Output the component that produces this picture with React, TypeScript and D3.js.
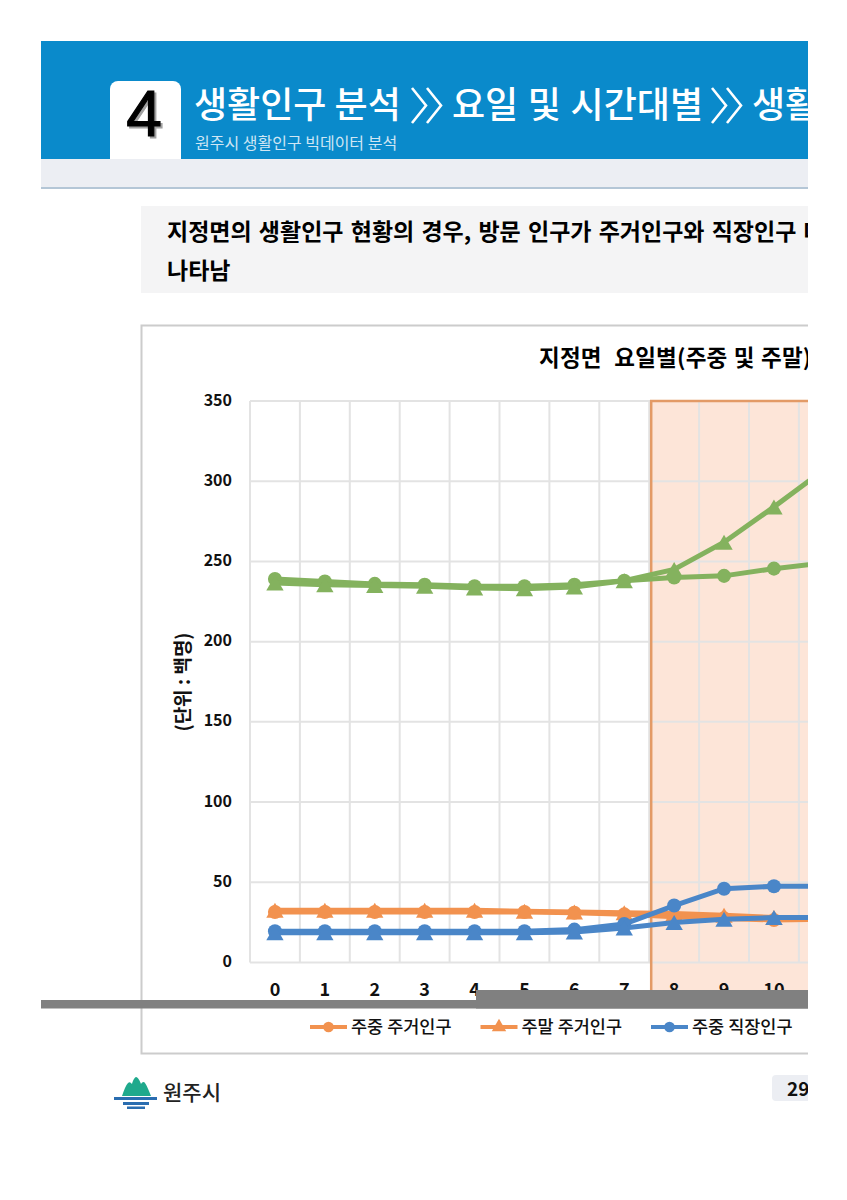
import { useEffect, useRef } from "react";
import * as d3 from "d3";

const hours = d3.range(0, 24).map(String);
const visibleHours = d3.range(0, 11).map(String);
const yTicks = [0, 50, 100, 150, 200, 250, 300, 350];

// only hours 0-11 are readable, the rest of the page is cut off
const weekdayResident = [31.5, 31.5, 31.5, 31.5, 31.5, 31.5, 31, 30, 28.5, 27.5, 26.5, 27];
const weekendResident = [32.5, 32.5, 32.5, 32.5, 32.5, 32, 31.5, 31, 30.5, 29.5, 28, 27];
const weekdayWorker = [19.5, 19.5, 19.5, 19.5, 19.5, 19.5, 20.5, 24, 35.5, 46, 47.5, 47.5];
const weekendWorker = [18.5, 18.5, 18.5, 18.5, 18.5, 18.5, 19, 21.5, 25, 27, 28, 28];
const weekdayVisitor = [239, 237.5, 236, 235.5, 234.5, 234.5, 235.5, 238, 240, 241, 245.5, 249];
const weekendVisitor = [236.5, 235.5, 235, 234.5, 233.5, 233, 234, 238, 245, 262, 284, 307];

const orange = "#f2924f";
const blue = "#4a86c8";
const green = "#84b25e";
const font = "'Noto Sans CJK KR', sans-serif";

const series = [
  { name: "주중 주거인구", values: weekdayResident, color: orange, marker: "circle" },
  { name: "주말 주거인구", values: weekendResident, color: orange, marker: "triangle" },
  { name: "주중 직장인구", values: weekdayWorker, color: blue, marker: "circle" },
  { name: "주말 직장인구", values: weekendWorker, color: blue, marker: "triangle" },
  { name: "주중 방문인구", values: weekdayVisitor, color: green, marker: "circle" },
  { name: "주말 방문인구", values: weekendVisitor, color: green, marker: "triangle" },
];

export default function App() {
  const svgRef = useRef<SVGSVGElement>(null);

  useEffect(() => {
    if (!svgRef.current) return;
    const svg = d3.select(svgRef.current);
    svg.selectAll("*").remove();

    const text = (
      x: number,
      y: number,
      s: string,
      size: number,
      weight: number,
      fill = "#000",
      anchor = "start",
    ) =>
      svg
        .append("text")
        .attr("x", x)
        .attr("y", y)
        .attr("font-family", font)
        .attr("font-size", size)
        .attr("font-weight", weight)
        .attr("fill", fill)
        .attr("text-anchor", anchor)
        .style("white-space", "pre")
        .text(s);

    // Header
    svg.append("rect").attr("x", 41).attr("y", 41).attr("width", 767).attr("height", 118).attr("fill", "#0a8acb");
    svg.append("rect").attr("x", 41).attr("y", 159).attr("width", 767).attr("height", 28).attr("fill", "#eceef3");
    svg.append("rect").attr("x", 41).attr("y", 187).attr("width", 767).attr("height", 2).attr("fill", "#b4c6d6");
    svg.append("path").attr("d", "M110,159V89a8,8 0 0 1 8,-8H173a8,8 0 0 1 8,8V159Z").attr("fill", "#fff");
    [
      { dx: 2, dy: 2, fill: "#a0a0a0" },
      { dx: 0, dy: 0, fill: "#000" },
    ].forEach((f) => {
      text(144 + f.dx, 136 + f.dy, "4", 64, 400, f.fill, "middle")
        .attr("font-family", "'Liberation Sans', sans-serif")
        .attr("stroke", f.fill)
        .attr("stroke-width", 1.2);
    });
    text(194, 118, "생활인구 분석", 36, 500, "#fff");
    text(452, 118, "요일 및 시간대별", 36, 500, "#fff").attr("word-spacing", 1.5);
    text(752, 118, "생활인구", 36, 500, "#fff");
    [412, 427, 712, 727].forEach((cxv) => {
      svg
        .append("polyline")
        .attr("points", `${cxv},88 ${cxv + 14},105.5 ${cxv},123`)
        .attr("fill", "none")
        .attr("stroke", "#fff")
        .attr("stroke-width", 2.6);
    });
    text(195, 149, "원주시 생활인구 빅데이터 분석", 16, 400, "#cfe6f4");

    // Summary box
    svg.append("rect").attr("x", 141).attr("y", 206).attr("width", 667).attr("height", 87).attr("fill", "#f4f4f5");
    text(167, 240, "지정면의 생활인구 현황의 경우, 방문 인구가 주거인구와 직장인구 대비", 23, 700).attr("word-spacing", 2);
    text(167, 279, "나타남", 23, 700);

    // Chart frame
    svg
      .append("rect")
      .attr("x", 141.5)
      .attr("y", 325.5)
      .attr("width", 760)
      .attr("height", 728)
      .attr("fill", "#fff")
      .attr("stroke", "#cccccc")
      .attr("stroke-width", 2);
    text(539, 366, "지정면  요일별(주중 및 주말)", 22.5, 700).attr("letter-spacing", 0.2).attr("word-spacing", 1);

    const x = d3.scaleBand<string>().domain(hours).range([250, 250 + 24 * 49.9]);
    const y = d3.scaleLinear().domain([0, 350]).range([962.5, 401]);
    const cx = (i: number) => x(hours[i])! + x.bandwidth() / 2;
    const bandLeft = x("8")! + 2;

    // Highlighted hours
    svg
      .append("rect")
      .attr("x", bandLeft)
      .attr("y", y(350))
      .attr("width", 808 - bandLeft)
      .attr("height", 600)
      .attr("fill", "#fde5d8");

    // Grid
    const grid = svg.append("g").attr("stroke", "#e3e3e3").attr("stroke-width", 2);
    grid
      .selectAll("line.h")
      .data(yTicks)
      .join("line")
      .attr("class", "h")
      .attr("x1", 250)
      .attr("x2", 808)
      .attr("y1", (d) => y(d))
      .attr("y2", (d) => y(d));
    grid
      .selectAll("line.v")
      .data(d3.range(0, 12))
      .join("line")
      .attr("class", "v")
      .attr("x1", (d) => 250 + d * x.step())
      .attr("x2", (d) => 250 + d * x.step())
      .attr("y1", y(350))
      .attr("y2", y(0));

    // Band border goes over the grid
    svg
      .append("path")
      .attr("d", `M${bandLeft},995V${y(350)}H808`)
      .attr("fill", "none")
      .attr("stroke", "#e39a66")
      .attr("stroke-width", 2.5);

    // Axes
    const yAxis = svg
      .append("g")
      .attr("transform", "translate(232,-1)")
      .call(d3.axisLeft(y).tickValues(yTicks).tickSize(0).tickPadding(0));
    yAxis.select(".domain").remove();
    yAxis
      .selectAll("text")
      .attr("font-family", font)
      .attr("font-size", 16)
      .attr("font-weight", 700)
      .attr("fill", "#111");

    const xAxis = svg
      .append("g")
      .attr("transform", "translate(0,983)")
      .call(d3.axisBottom(x).tickValues(visibleHours).tickSize(0).tickPadding(0));
    xAxis.select(".domain").remove();
    xAxis
      .selectAll("text")
      .attr("font-family", font)
      .attr("font-size", 18)
      .attr("font-weight", 700)
      .attr("fill", "#111");

    text(0, 0, "(단위 : 백명)", 19, 700, "#111", "middle").attr("transform", "translate(190,682) rotate(-90)");

    // Lines and markers
    const line = d3
      .line<number>()
      .x((_, i) => cx(i))
      .y((d) => y(d));
    const circle = d3.symbol().type(d3.symbolCircle).size(155);
    const triangle = d3.symbol().type(d3.symbolTriangle).size(130);

    series.forEach((s) => {
      svg
        .append("path")
        .attr("d", line(s.values))
        .attr("fill", "none")
        .attr("stroke", s.color)
        .attr("stroke-width", 5);
      svg
        .append("g")
        .selectAll("path")
        .data(s.values)
        .join("path")
        .attr("d", s.marker === "circle" ? circle : triangle)
        // triangles sit on their box centre, not the centroid
        .attr("transform", (d, i) => `translate(${cx(i)},${y(d) + (s.marker === "circle" ? 0 : 2.5)})`)
        .attr("fill", s.color);
    });

    // Grey bars from the page scan
    svg.append("rect").attr("x", 41).attr("y", 1000).attr("width", 767).attr("height", 8.5).attr("fill", "#808080");
    svg.append("rect").attr("x", 476).attr("y", 990).attr("width", 332).attr("height", 18.5).attr("fill", "#808080");

    // Legend, only the first three fit on the page
    series.slice(0, 3).forEach((s, i) => {
      const lx = 310 + i * 170.5;
      svg
        .append("line")
        .attr("x1", lx)
        .attr("x2", lx + 37)
        .attr("y1", 1027)
        .attr("y2", 1027)
        .attr("stroke", s.color)
        .attr("stroke-width", 4);
      svg
        .append("path")
        .attr("d", d3.symbol().type(s.marker === "circle" ? d3.symbolCircle : d3.symbolTriangle).size(90)())
        .attr("transform", `translate(${lx + 18.5},1027)`)
        .attr("fill", s.color);
      text(lx + 41, 1033, s.name, 17.5, 500, "#111");
    });

    // Footer logo
    svg
      .append("path")
      .attr("d", "M122,1096C124,1090 126,1085 128,1083C130,1081 131,1083 132,1084C133,1080 135,1077 136,1077C138,1077 140,1081 141,1084C142,1082 144,1081 145,1083C147,1086 149,1091 151,1096Z")
      .attr("fill", "#1fa98c");
    svg.append("path").attr("d", "M114,1097H157V1100H114ZM123,1102H149V1105H123ZM127,1106.5H145V1109H127Z").attr("fill", "#2a6db0");
    text(163, 1100, "원주시", 21, 500, "#222");

    // Page number
    svg.append("rect").attr("x", 772).attr("y", 1075).attr("width", 50).attr("height", 26).attr("rx", 4).attr("fill", "#eceef3");
    text(787, 1096, "29", 19, 700, "#111");
  }, []);

  return (
    <svg
      ref={svgRef}
      width={808}
      height={1200}
      style={{ position: "absolute", left: 0, top: 0, background: "#fff" }}
    />
  );
}
